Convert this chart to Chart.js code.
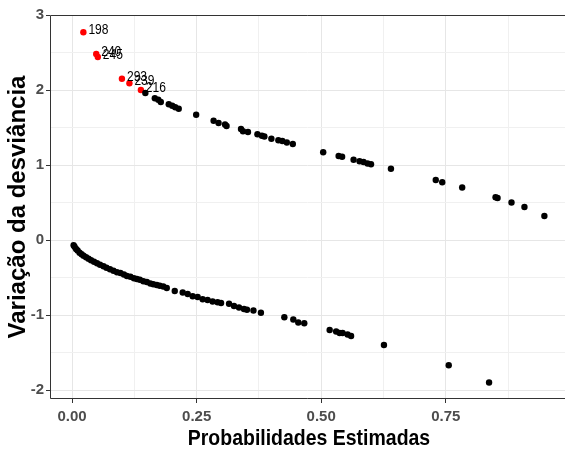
<!DOCTYPE html>
<html>
<head>
<meta charset="utf-8">
<script src="https://cdn.jsdelivr.net/npm/chart.js@4/dist/chart.umd.min.js"></script>
<style>
  html, body { margin: 0; padding: 0; background: #fff; }
  #wrap { width: 569px; height: 450px; }
</style>
</head>
<body>
<div id="wrap"><canvas id="chartDev"></canvas></div>
<script>
// pontos com y = 1 (ramo de cima)
const probCima = [0.147, 0.166, 0.173, 0.178, 0.194, 0.201, 0.207, 0.214, 0.249, 0.284, 0.294, 0.307, 0.310,
  0.339, 0.343, 0.353, 0.372, 0.381, 0.386, 0.400, 0.414, 0.422, 0.431, 0.443, 0.504, 0.535, 0.542, 0.565,
  0.577, 0.585, 0.593, 0.600, 0.640, 0.730, 0.743, 0.783, 0.850, 0.854, 0.882, 0.908, 0.948];
const devCima = [1.96, 1.89, 1.87, 1.84, 1.81, 1.79, 1.77, 1.75, 1.67, 1.59, 1.56, 1.54, 1.52,
  1.48, 1.45, 1.44, 1.41, 1.39, 1.38, 1.35, 1.33, 1.32, 1.30, 1.28, 1.17, 1.12, 1.11, 1.07,
  1.05, 1.04, 1.02, 1.01, 0.95, 0.80, 0.77, 0.70, 0.57, 0.56, 0.50, 0.44, 0.32];

// pontos com y = 0 (ramo de baixo)
const probBaixo = [0.003, 0.005, 0.008, 0.011, 0.015, 0.019, 0.023, 0.028, 0.033, 0.038, 0.044, 0.050, 0.056,
  0.063, 0.069, 0.076, 0.083, 0.090, 0.097, 0.104, 0.110, 0.117, 0.124, 0.130, 0.136, 0.143, 0.150, 0.157,
  0.163, 0.170, 0.176, 0.183, 0.190, 0.206, 0.222, 0.232, 0.242, 0.252, 0.262, 0.272, 0.282, 0.292, 0.299,
  0.315, 0.325, 0.335, 0.345, 0.351, 0.364, 0.379, 0.426, 0.444, 0.454, 0.466, 0.517, 0.530, 0.537, 0.543,
  0.553, 0.560, 0.626, 0.756, 0.837];
const devBaixo = [-0.07, -0.09, -0.12, -0.14, -0.17, -0.19, -0.21, -0.23, -0.25, -0.27, -0.29, -0.31, -0.33,
  -0.35, -0.37, -0.39, -0.41, -0.43, -0.44, -0.46, -0.48, -0.49, -0.51, -0.52, -0.53, -0.55, -0.56, -0.58,
  -0.59, -0.60, -0.61, -0.62, -0.64, -0.68, -0.70, -0.72, -0.75, -0.76, -0.79, -0.80, -0.82, -0.83, -0.84,
  -0.85, -0.88, -0.90, -0.92, -0.93, -0.94, -0.97, -1.03, -1.06, -1.10, -1.11, -1.20, -1.22, -1.24, -1.24,
  -1.26, -1.28, -1.40, -1.67, -1.90];

// observações destacadas
const idsDestaque = ['198', '240', '245', '293', '239', '216'];
const probDestaque = [0.0226, 0.0484, 0.0516, 0.100, 0.115, 0.138];
const devDestaque = [2.77, 2.48, 2.44, 2.15, 2.09, 2.00];

const ticksX = [0, 0.125, 0.25, 0.375, 0.5, 0.625, 0.75, 0.875];
const rotulosX = ['0.00', '', '0.25', '', '0.50', '', '0.75', ''];
const ticksY = [-2, -1.5, -1, -0.5, 0, 0.5, 1, 1.5, 2, 2.5, 3];
const rotulosY = ['-2', '', '-1', '', '0', '', '1', '', '2', '', '3'];

const tituloX = 'Probabilidades Estimadas';

const pontos = (xs, ys) => xs.map((x, i) => ({ x: x, y: ys[i] }));
const ehMajor = (lista, rotulos, v) => rotulos[lista.indexOf(v)] !== '';

const fonteTick = { family: '"Liberation Sans", Arial', size: 15, weight: 'bold' };

// texto "apertado" na horizontal, como no gráfico original
function textoEstreito(ctx, txt, x, y, fator) {
    ctx.save();
    ctx.translate(x, y);
    ctx.scale(fator, 1);
    ctx.fillText(txt, 0, 0);
    ctx.restore();
}

const extras = {
    id: 'extras',
    afterDraw(chart) {
        const { ctx, chartArea: a } = chart;
        ctx.save();
        ctx.strokeStyle = '#333333';
        ctx.lineWidth = 1;
        ctx.beginPath();
        ctx.moveTo(a.right, a.top + 0.5);
        ctx.lineTo(a.left + 0.5, a.top + 0.5);
        ctx.lineTo(a.left + 0.5, a.bottom - 0.5);
        ctx.lineTo(a.right, a.bottom - 0.5);
        ctx.stroke();

        // rotulos das observações
        const meta = chart.getDatasetMeta(2);
        ctx.fillStyle = '#000';
        ctx.font = '14px "Liberation Sans", Arial';
        ctx.textBaseline = 'middle';
        ctx.textAlign = 'left';
        meta.data.forEach((p, i) => textoEstreito(ctx, idsDestaque[i], p.x + 5, p.y - 2, 0.86));

        // titulo do eixo x
        ctx.font = 'bold 22px "Liberation Sans", Arial';
        ctx.textAlign = 'center';
        ctx.textBaseline = 'alphabetic';
        textoEstreito(ctx, tituloX, (a.left + a.right) / 2 + 1.5, 445, 0.885);
        ctx.restore();
    }
};

new Chart(document.getElementById('chartDev').getContext('2d'), {
    type: 'scatter',
    data: {
        datasets: [
            { data: pontos(probCima, devCima), backgroundColor: '#000', pointRadius: 3.2, borderWidth: 0 },
            { data: pontos(probBaixo, devBaixo), backgroundColor: '#000', pointRadius: 3.2, borderWidth: 0 },
            { data: pontos(probDestaque, devDestaque), backgroundColor: '#ff0000', pointRadius: 3.2, borderWidth: 0 }
        ]
    },
    options: {
        responsive: true,
        maintainAspectRatio: false,
        animation: false,
        layout: { padding: { top: 15, right: 0, left: 0, bottom: 0 } },
        plugins: { legend: { display: false }, tooltip: { enabled: false } },
        scales: {
            x: {
                type: 'linear', min: -0.0444, max: 0.9894,
                afterBuildTicks: s => { s.ticks = ticksX.map(v => ({ value: v })); },
                afterFit: s => { s.height = 51; },
                border: { display: false },
                grid: {
                    color: c => c.tick && ehMajor(ticksX, rotulosX, c.tick.value) ? '#e6e6e6' : '#f0f0f0',
                    tickColor: c => c.tick && ehMajor(ticksX, rotulosX, c.tick.value) ? '#333333' : 'rgba(0,0,0,0)',
                    tickLength: 4, lineWidth: 1
                },
                ticks: {
                    autoSkip: false, maxRotation: 0, padding: 5, color: '#4d4d4d', font: fonteTick,
                    callback: v => rotulosX[ticksX.indexOf(v)] ?? ''
                }
            },
            y: {
                type: 'linear', min: -2.12, max: 3,
                afterBuildTicks: s => { s.ticks = ticksY.map(v => ({ value: v })); },
                afterFit: s => { s.width = 50; },
                border: { display: false },
                grid: {
                    color: c => c.tick && ehMajor(ticksY, rotulosY, c.tick.value) ? '#e6e6e6' : '#f0f0f0',
                    tickColor: c => c.tick && ehMajor(ticksY, rotulosY, c.tick.value) ? '#333333' : 'rgba(0,0,0,0)',
                    tickLength: 4, lineWidth: 1
                },
                ticks: {
                    autoSkip: false, padding: 2, color: '#4d4d4d', font: fonteTick,
                    callback: v => rotulosY[ticksY.indexOf(v)] ?? ''
                },
                title: {
                    display: true, text: 'Variação da desviância', color: '#000',
                    font: { family: '"Liberation Sans", Arial', size: 24, weight: 'bold' },
                    padding: { top: 4, bottom: 0 }
                }
            }
        }
    },
    plugins: [extras]
});
</script>
</body>
</html>
